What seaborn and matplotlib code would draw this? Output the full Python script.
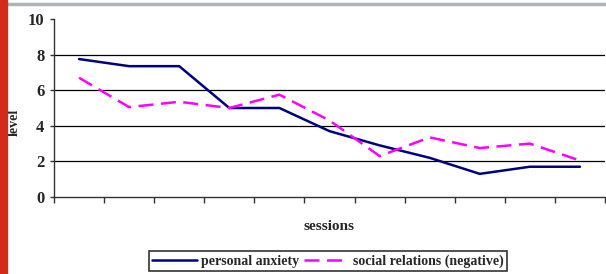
import matplotlib
matplotlib.use("Agg")
import matplotlib.pyplot as plt
import seaborn as sns
import pandas as pd
from matplotlib.patches import Rectangle
from matplotlib.lines import Line2D

sessions = list(range(1, 12))
personal_anxiety = [7.75, 7.35, 7.35, 5.0, 5.0, 3.7, 2.9, 2.2, 1.3, 1.7, 1.7]
social_relations = [6.7, 5.05, 5.35, 5.0, 5.75, 4.3, 2.3, 3.35, 2.75, 3.0, 2.05]
series_names = ["personal anxiety", "social relations (negative)"]
y_ticks = [0, 2, 4, 6, 8, 10]

df = pd.DataFrame({
    "session": sessions * 2,
    "level": personal_anxiety + social_relations,
    "series": [series_names[0]] * len(sessions) + [series_names[1]] * len(sessions),
})

sns.set_theme(style="white")
plt.rcParams["font.family"] = ["Liberation Serif", "DejaVu Serif"]

fig = plt.figure(figsize=(6.06, 2.74), dpi=100)
ax = fig.add_axes([54 / 606, 1 - 197 / 274, (605 - 54) / 606, (197 - 19) / 274])

palette = {series_names[0]: "#000080", series_names[1]: "#ff00ff"}
sns.lineplot(data=df, x="session", y="level", hue="series", style="series",
             palette=palette, dashes={series_names[0]: "", series_names[1]: (6, 3)},
             linewidth=1.8, ax=ax, legend=False)

ax.set_ylim(0, 10)
ax.set_xlim(0.5, 11.5)
ax.set_yticks(y_ticks)
ax.set_yticklabels([str(v) for v in y_ticks], fontsize=12, fontweight="bold")
ax.set_xticks([s - 0.5 for s in sessions] + [11.5])
ax.set_xticklabels([])
for v in y_ticks[1:-1]:
    ax.axhline(v, color="black", linewidth=0.9, zorder=0)

for side in ["top", "right"]:
    ax.spines[side].set_visible(False)
for side in ["left", "bottom"]:
    ax.spines[side].set_color("#333333")
    ax.spines[side].set_linewidth(1.0)
ax.tick_params(axis="x", direction="out", length=4, width=1, color="#333333", bottom=True)
ax.tick_params(axis="y", direction="out", length=3, width=1, color="#333333", left=True, pad=4)

ax.set_xlabel("sessions", fontsize=11, fontweight="bold", labelpad=9)
ax.set_ylabel("level", fontsize=10, fontweight="bold")
ax.yaxis.set_label_coords(-(54 - 21) / 551, 0.42)

handles = [
    Line2D([0], [0], color="#000080", linewidth=1.8),
    Line2D([0], [0], color="#ff00ff", linewidth=1.8, dashes=(6, 3)),
]
leg = fig.legend(handles, series_names, loc="center", bbox_to_anchor=(328 / 606, 1 - 261 / 274),
                 ncol=2, frameon=True, fancybox=False, edgecolor="black",
                 prop={"family": ["Liberation Serif"], "weight": "bold", "size": 10},
                 handlelength=3.2, handletextpad=0.3, columnspacing=0.4,
                 borderpad=0.25, borderaxespad=0)
leg.get_frame().set_linewidth(1.2)

fig.patches.append(Rectangle((0, 0), 7 / 606, 1, transform=fig.transFigure,
                             color="#d42a1a", zorder=10))
fig.lines.append(Line2D([7 / 606, 1], [1 - 4 / 274, 1 - 4 / 274], transform=fig.transFigure,
                        color="#b0b4b8", linewidth=2.5))

fig.savefig("out.png", dpi=100)
